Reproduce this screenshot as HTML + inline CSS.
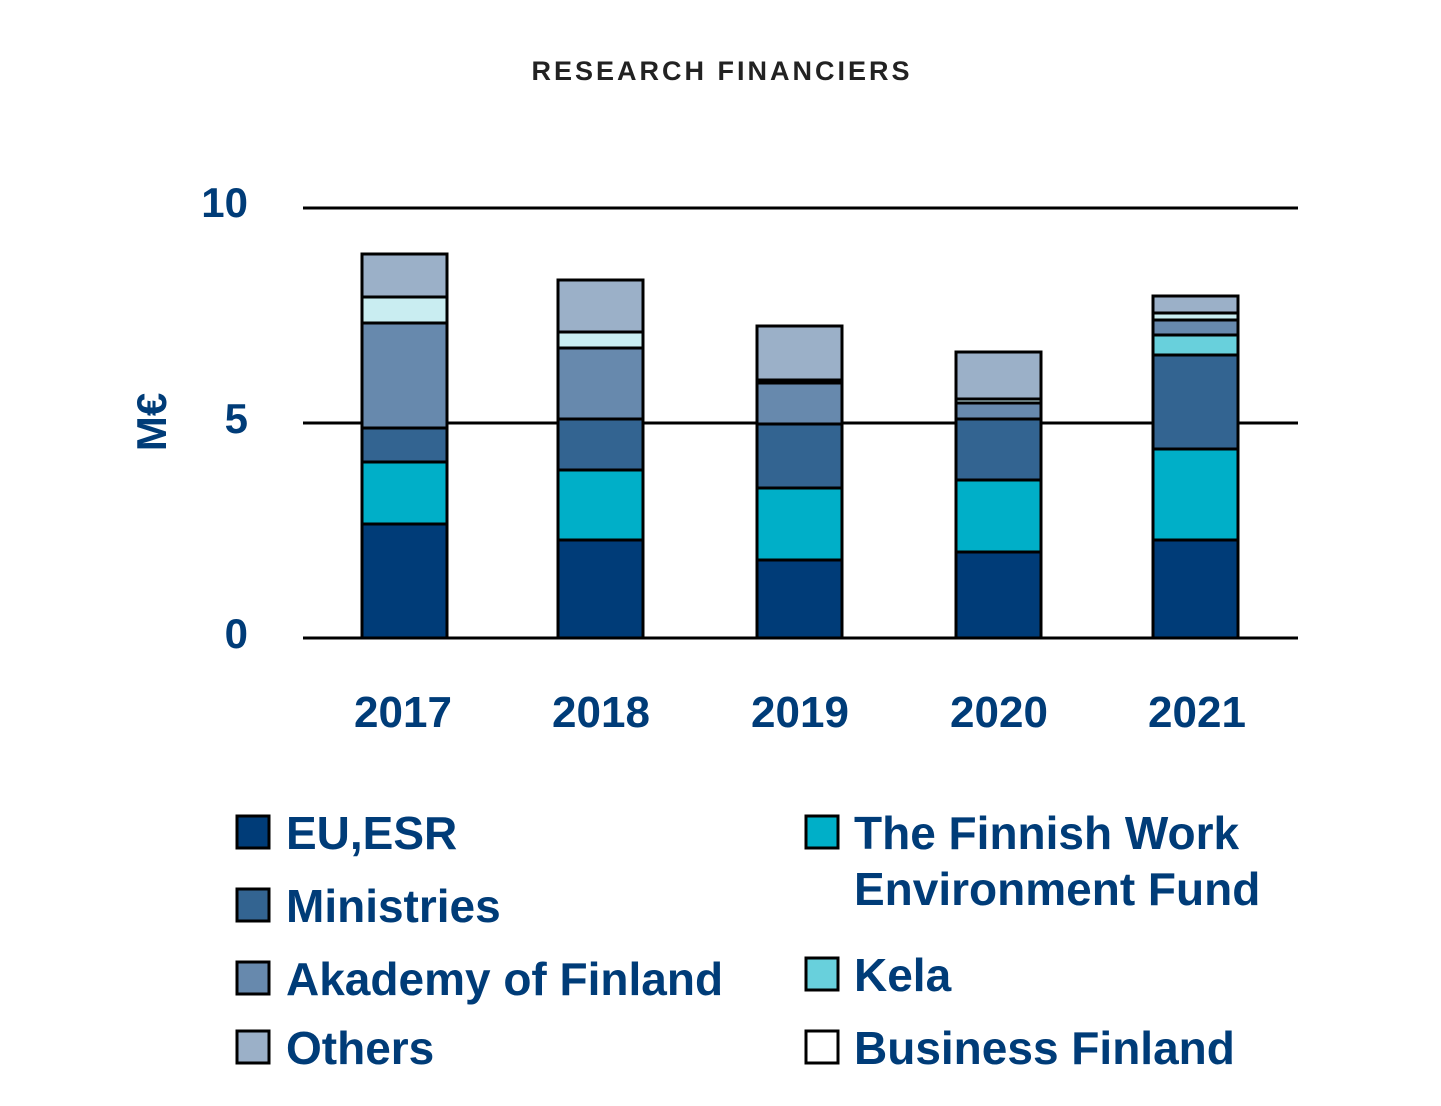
<!DOCTYPE html>
<html><head><style>body{margin:0;background:#fff}svg text{font-family:"Liberation Sans",sans-serif}</style></head><body>
<svg width="1441" height="1101" xmlns="http://www.w3.org/2000/svg">
<text x="722" y="80" text-anchor="middle" font-size="27" font-weight="bold" fill="#222" letter-spacing="3">RESEARCH FINANCIERS</text>
<g fill="#003c78" font-weight="bold" font-size="42">
<text x="248" y="217" text-anchor="end">10</text>
<text x="248" y="433" text-anchor="end">5</text>
<text x="248" y="648" text-anchor="end">0</text>
<text transform="translate(166,422) rotate(-90)" text-anchor="middle">M€</text>
<text x="403" y="727" text-anchor="middle" font-size="44">2017</text>
<text x="601" y="727" text-anchor="middle" font-size="44">2018</text>
<text x="800" y="727" text-anchor="middle" font-size="44">2019</text>
<text x="999" y="727" text-anchor="middle" font-size="44">2020</text>
<text x="1197" y="727" text-anchor="middle" font-size="44">2021</text>
</g>
<g stroke="#000" stroke-width="3">
<line x1="303" y1="208" x2="1298" y2="208"/>
<line x1="303" y1="423" x2="1298" y2="423"/>
</g>
<g stroke="#000" stroke-width="3">
<!-- 2017 -->
<rect x="362" y="524" width="85" height="114" fill="#003c78"/>
<rect x="362" y="462" width="85" height="62" fill="#00afc8"/>
<rect x="362" y="428" width="85" height="34" fill="#336491"/>
<rect x="362" y="323" width="85" height="105" fill="#6789ad"/>
<rect x="362" y="297" width="85" height="26" fill="#c9edf1"/>
<rect x="362" y="254" width="85" height="43" fill="#9bb0c8"/>
<!-- 2018 -->
<rect x="558" y="540" width="85" height="98" fill="#003c78"/>
<rect x="558" y="470" width="85" height="70" fill="#00afc8"/>
<rect x="558" y="419" width="85" height="51" fill="#336491"/>
<rect x="558" y="348" width="85" height="71" fill="#6789ad"/>
<rect x="558" y="332" width="85" height="16" fill="#c9edf1"/>
<rect x="558" y="280" width="85" height="52" fill="#9bb0c8"/>
<!-- 2019 -->
<rect x="757" y="560" width="85" height="78" fill="#003c78"/>
<rect x="757" y="488" width="85" height="72" fill="#00afc8"/>
<rect x="757" y="424" width="85" height="64" fill="#336491"/>
<rect x="757" y="383" width="85" height="41" fill="#6789ad"/>
<rect x="757" y="380" width="85" height="3" fill="#c9edf1"/>
<rect x="757" y="326" width="85" height="54" fill="#9bb0c8"/>
<!-- 2020 -->
<rect x="956" y="552" width="85" height="86" fill="#003c78"/>
<rect x="956" y="480" width="85" height="72" fill="#00afc8"/>
<rect x="956" y="419" width="85" height="61" fill="#336491"/>
<rect x="956" y="403" width="85" height="16" fill="#6789ad"/>
<rect x="956" y="399" width="85" height="4" fill="#c9edf1"/>
<rect x="956" y="352" width="85" height="47" fill="#9bb0c8"/>
<!-- 2021 -->
<rect x="1153" y="540" width="85" height="98" fill="#003c78"/>
<rect x="1153" y="449" width="85" height="91" fill="#00afc8"/>
<rect x="1153" y="355" width="85" height="94" fill="#336491"/>
<rect x="1153" y="335" width="85" height="20" fill="#68d0dc"/>
<rect x="1153" y="320" width="85" height="15" fill="#6789ad"/>
<rect x="1153" y="313" width="85" height="7" fill="#c9edf1"/>
<rect x="1153" y="296" width="85" height="17" fill="#9bb0c8"/>
</g>
<line x1="303" y1="638" x2="1298" y2="638" stroke="#000" stroke-width="3"/>
<g stroke="#000" stroke-width="3">
<rect x="237" y="816" width="32" height="32" fill="#003c78"/>
<rect x="237" y="889" width="32" height="32" fill="#336491"/>
<rect x="237" y="962" width="32" height="32" fill="#6789ad"/>
<rect x="237" y="1031" width="32" height="32" fill="#9bb0c8"/>
<rect x="806" y="816" width="32" height="32" fill="#00afc8"/>
<rect x="806" y="958" width="32" height="32" fill="#68d0dc"/>
<rect x="806" y="1031" width="32" height="32" fill="#fff"/>
</g>
<g fill="#003c78" font-weight="bold" font-size="46">
<text x="286" y="849">EU,ESR</text>
<text x="286" y="922">Ministries</text>
<text x="286" y="995">Akademy of Finland</text>
<text x="286" y="1064">Others</text>
<text x="854" y="849">The Finnish Work</text>
<text x="854" y="905">Environment Fund</text>
<text x="854" y="991">Kela</text>
<text x="854" y="1064">Business Finland</text>
</g>
</svg>
</body></html>
